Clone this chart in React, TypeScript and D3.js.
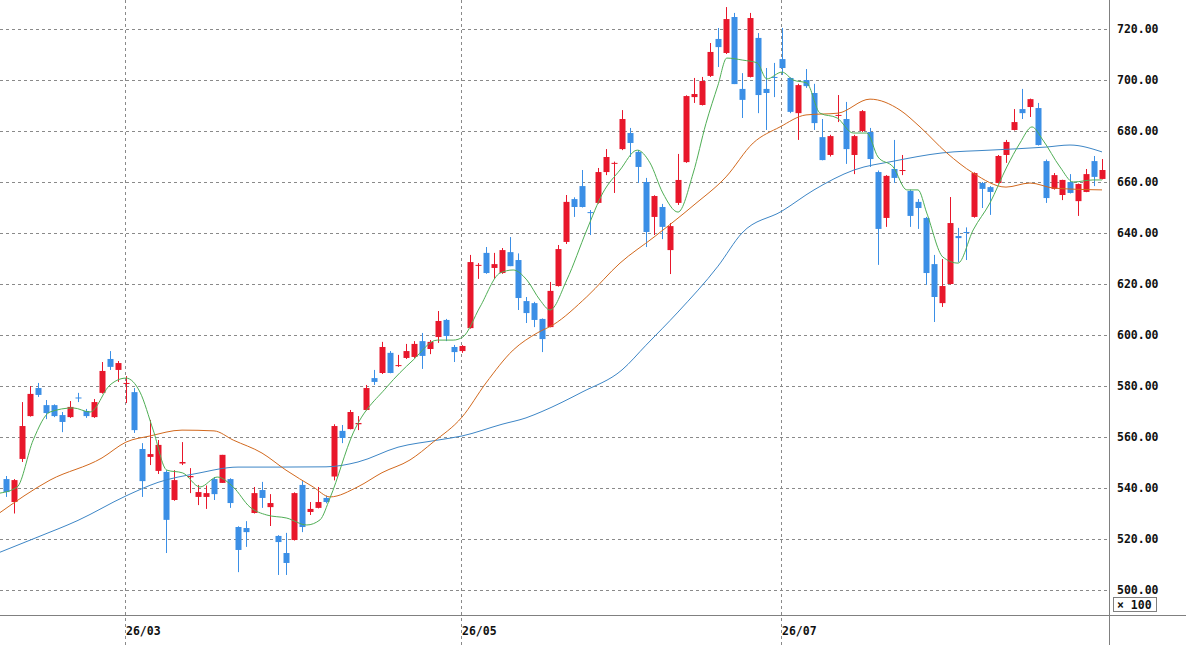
import { useMemo } from "react";
import { scaleLinear, line, curveMonotoneX } from "d3";

const opens = [543.5,534.5,551.4,568.2,579.2,572.5,572.5,568.6,567.8,575.5,570.2,567.8,577.3,590.6,586.3,580.8,577.6,555.3,552.2,546.7,546.3,535.3,549.6,544.2,536.5,536.5,543.5,542,543.5,524.7,524.3,530.2,539.2,532.5,521.2,514.5,519.6,541.2,530.6,532.2,536.1,544.5,562.4,563.1,565,570.6,583.1,585.1,593,587.8,591,591.4,597.6,594.5,599.2,605.9,595.3,593.7,602.7,627.2,632.2,626.3,624.3,632.5,629.4,613.3,612.5,606.3,603.1,619.2,636.5,653.3,658.4,648.2,651.8,663.9,667.2,672.9,679.2,671.8,660,646.3,650.2,633.3,651.8,667.8,693.3,690.2,701.6,716.1,710.6,724.7,696.5,701.2,716.5,696.5,701.2,708.2,700.8,687,700,694.9,677.6,670.6,686.1,684.7,670.6,680,679.6,663.9,645.9,665.1,664.5,656.5,652.2,645.9,627.8,612.5,620,638.8,640.4,646.3,659.6,658,659.6,670.6,680.4,688.6,689.4,689,668.2,657.3,654.9,660,652.5,656.1,668.2,661.2];
const highs = [544.7,543.5,573.7,580,581.2,574.5,572.8,569.8,574.1,577.3,571,574.9,589.4,593.7,589.8,583.9,579.2,557.6,566.7,558.8,547,547,558,547.8,541.2,541,544.3,553,543.8,525,527,540.4,542.4,537.6,521.5,522.4,538.3,542.7,534.5,540.4,537,565,564.7,570.6,568.2,580.4,586.3,597.3,593.7,592.2,596.5,597.6,600.8,598,609.4,606.3,596.1,596,631.4,628.2,634.5,632.2,634.1,638.4,632,614.9,613,606.5,620.8,635.3,654.9,654,664.7,649,665.5,672.9,668,688.2,681.2,672.5,661.6,654.8,651.4,643.9,671,694,700.8,701.2,714.5,720.4,728.6,726.3,702.7,726.3,718.4,704.7,706.7,720.4,701,698.5,704.3,698.5,684.7,678.5,694.1,691.4,678.5,688.2,681.2,664.5,662.7,676.5,670.6,657,653.3,646.3,631.4,629.8,654.1,642,642.2,663.8,660,658.4,670.6,676.5,688.6,696.5,692.7,691,668.8,663.5,660.9,663.1,659.4,665.1,670.2,669];
const lows = [536.5,530,550.2,568,575.7,567,567.8,561.9,567.5,573.7,567.5,567.5,577,586.3,581.6,573.3,561.6,536.5,549,545.5,514.5,535,549,538,533.3,531.8,535.3,542,532.2,507,516.9,530,532.2,525.1,505.9,505.9,519.4,522.7,529.4,532,534,543,557.6,563,562.7,570.4,580.4,584.7,585,587.5,590.6,591,586.7,592.5,596.9,597.6,589.4,593,602.5,622,624,622,624,627,609.8,604.7,603.1,593.3,603,619,635.7,646.3,650,639.2,651.5,662.7,655.7,672.5,669.8,659.6,634.5,639.2,637.6,623.9,651,667.5,691,690,701.2,705.1,710.2,698.4,685.1,701,687,680.4,693.3,702,687,676.5,696.9,680.4,668.5,670,683.5,667.1,663.1,679.6,665.9,627.5,642.4,659.6,662.7,642.4,641.6,619.6,605.1,611,619.8,628.6,629.4,646,649.8,647.1,659.4,667.5,680.2,684.7,685.5,674.3,651.8,657,652.9,655.5,646.7,656,658.4,661];
const closes = [538.4,543.1,564.3,576.9,576.5,569.4,568.2,565.9,571.8,575.1,568.2,573.7,585.9,587.5,589,581.2,562.7,542.7,553.3,556.9,527.5,543.1,550.2,544.7,538.4,538,537.6,553,534.1,515.7,522.7,538,536.1,534.1,518.8,510.6,538,524.7,531.8,534.5,534.5,564.3,559.6,569.8,565.5,579.2,581.6,595.3,585.1,588.2,593.7,596.5,591.8,597.3,605.5,599.6,593.3,595.7,628.6,627.5,624.3,627.8,633.3,627,614.5,608.6,605.9,598.4,617.3,633.7,652.2,650.2,650.2,647.8,663.9,669.8,667.5,684.7,675.3,665.9,640.4,654.5,642.4,642.7,660.8,693.7,694.5,699.6,711,712.9,723.9,698.4,692.2,724.3,694.1,694.9,701,704.7,687.5,698,697.6,683.1,668.6,678,686.3,672.9,678,687.8,669,641.6,662.4,661.6,664.7,646.7,649.8,624.3,614.9,619.2,643.9,638,640.2,663.5,657.3,656.1,670.2,675.7,683.5,687,692.5,674.5,653.7,662.7,660.8,655.7,659.2,663.1,662,664.7];

// moving averages: [candle index, value]
const maShort: [number, number][] = [[-0.75,538],[1.4,540.4],[3.4,558.8],[5.5,569.8],[8.4,571.4],[10.5,569.8],[13,580.4],[15,583.1],[16.75,577.6],[18.4,562.7],[20.1,547],[22.1,545.9],[24.25,540.4],[26.4,544.3],[28.4,540.4],[30.5,532.5],[32.6,529.4],[35.1,528.2],[37.6,525.5],[39.25,527.5],[40.5,536.1],[43.4,561.6],[47.6,579.6],[50.9,590.2],[53.9,598],[55.9,598],[57.1,599.2],[59.25,611],[61.75,624.3],[63.4,625.5],[65.1,621.6],[66.75,613.7],[68,609.8],[70.1,621.6],[72.6,641.2],[74.6,655.7],[76.75,664.7],[78.9,672.5],[80.5,667.5],[82.1,655.7],[84,648.2],[85.9,663.5],[87.5,683],[89,698],[90.1,708.6],[92.1,707.8],[93.9,706.7],[95.1,700.4],[97,703.1],[98.4,700],[100.1,698.8],[101.75,687],[103.9,685.1],[105.9,679.2],[107.6,679.2],[109,669.8],[110.9,665.9],[112.6,656.9],[114,656.9],[115.1,647.8],[117.1,630.6],[119,628.2],[120.9,641.2],[123,651.8],[125.1,665.9],[126.75,675.3],[128.25,681.6],[129.6,676.5],[131.75,665.9],[133.4,660],[135.9,660.8],[137,660.8]];
const maMid: [number, number][] = [[-1,529.8],[5.5,543.1],[12,551.8],[15,558],[18,560.4],[22,562.7],[26,562.4],[28.4,558.8],[32,553.7],[35,547],[38.4,540.4],[40.5,536.5],[44,540.5],[47,546],[50.5,551],[53.4,558],[57,567.8],[60,581.2],[63.4,594.1],[66.4,600.8],[68.4,604],[72.6,615],[76.75,628.2],[81,638.4],[86,651],[90,662],[93.4,675.3],[96.75,681.6],[100,686.3],[104,687],[108,692.5],[111.75,688.2],[114.25,681.6],[117.6,671.4],[120.9,663.5],[125,658],[128,659.6],[131,657.6],[137,656.9]];
const maLong: [number, number][] = [[-1,514.5],[4,520.8],[9,527.3],[15,536.9],[19,542.2],[24,545.8],[29,548.2],[34,548.2],[40,548.3],[44,550.2],[49,556],[54,558.8],[57,560.4],[62,565],[65,567.5],[67,570],[72,577.6],[77,586.3],[80,596],[84,609],[89,627],[92,640],[97,648.6],[101,656.9],[106,664.7],[111,668.2],[117,671.4],[123,672.5],[130,673.7],[133,674.5],[137,671.8]];

const yTicks = [500, 520, 540, 560, 580, 600, 620, 640, 660, 680, 700, 720];
const monthMarks: [number, string][] = [[15, "26/03"], [57, "26/05"], [97, "26/07"]];

const W = 1186, H = 645, AXIS_X = 1109, BOTTOM = 615;
const UP = "#e8172b", DOWN = "#3b8fe6";
const FONT = "'DejaVu Sans Mono', monospace";

export default function App() {
  const x = scaleLinear().domain([0, 137]).range([6, 1102]);
  const y = scaleLinear().domain([500, 720]).range([590, 29]);
  const mk = useMemo(
    () => line<[number, number]>().x(d => x(d[0])).y(d => y(d[1])).curve(curveMonotoneX),
    []
  );

  return (
    <svg width={W} height={H} style={{ position: "absolute", left: 0, top: 0, background: "#fff" }}>
      <defs>
        <clipPath id="plot"><rect x={0} y={0} width={AXIS_X} height={BOTTOM} /></clipPath>
      </defs>
      {yTicks.map(t => (
        <line key={t} x1={0} x2={AXIS_X} y1={Math.round(y(t)) + 0.5} y2={Math.round(y(t)) + 0.5}
          stroke="#8a8a8a" strokeDasharray="3,3" />
      ))}
      {monthMarks.map(([i]) => (
        <line key={i} x1={Math.round(x(i)) - 0.5} x2={Math.round(x(i)) - 0.5} y1={0} y2={H}
          stroke="#8a8a8a" strokeDasharray="3,3" />
      ))}
      <g clipPath="url(#plot)">
        {opens.map((o, i) => {
          const c = closes[i];
          const col = c >= o ? UP : DOWN;
          const cx = Math.round(x(i)) + 0.5;
          const top = y(Math.max(o, c));
          const h = Math.max(1, Math.abs(y(o) - y(c)));
          return (
            <g key={i}>
              <line x1={cx} x2={cx} y1={y(highs[i])} y2={y(lows[i])} stroke={col} />
              <rect x={cx - 3} y={top} width={6} height={h} fill={col} />
            </g>
          );
        })}
        <path d={mk(maLong) ?? ""} fill="none" stroke="#3d86c6" strokeWidth={1} />
        <path d={mk(maMid) ?? ""} fill="none" stroke="#d2691e" strokeWidth={1} />
        <path d={mk(maShort) ?? ""} fill="none" stroke="#4fae55" strokeWidth={1} />
      </g>
      <line x1={0} x2={W} y1={BOTTOM + 0.5} y2={BOTTOM + 0.5} stroke="#808080" />
      <line x1={AXIS_X + 0.5} x2={AXIS_X + 0.5} y1={0} y2={H} stroke="#808080" />
      {yTicks.map(t => (
        <text key={t} x={1117} y={y(t) + 4} fontFamily={FONT} fontWeight="bold" fontSize={11.5} fill="#111">
          {t.toFixed(2)}
        </text>
      ))}
      <rect x={1113.5} y={597.5} width={43} height={14} fill="none" stroke="#808080" />
      <text x={1117} y={609} fontFamily={FONT} fontWeight="bold" fontSize={11.5} fill="#111">× 100</text>
      {monthMarks.map(([i, s]) => (
        <text key={s} x={Math.round(x(i))} y={635} fontFamily={FONT} fontWeight="bold" fontSize={11.5} fill="#111">
          {s}
        </text>
      ))}
    </svg>
  );
}
